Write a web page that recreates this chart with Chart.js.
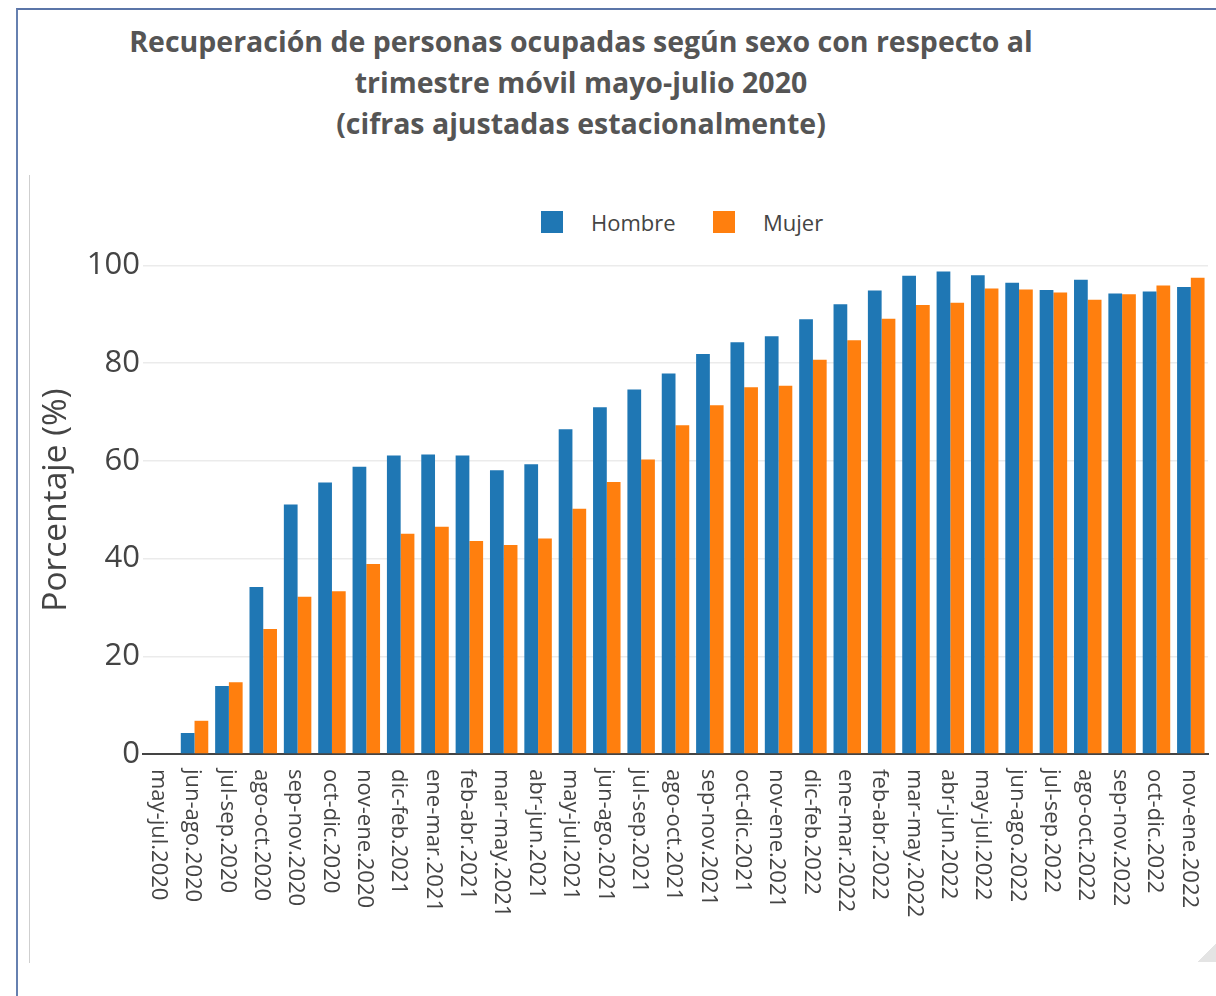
<!DOCTYPE html>
<html lang="es">
<head>
<meta charset="utf-8">
<title>Recuperación de personas ocupadas según sexo</title>
<script src="https://cdn.jsdelivr.net/npm/chart.js@4"></script>
<style>
  html, body { margin: 0; padding: 0; background: #fff; width: 1216px; height: 996px; overflow: hidden; }
  body { position: relative; font-family: "Open Sans", sans-serif; }
  .frame { position: absolute; left: 16px; top: 8px; width: 1220px; height: 1000px;
           border-top: 2px solid #5b75a8; border-left: 2px solid #6680b0; }
  .inner-line { position: absolute; left: 29px; top: 175px; width: 1px; height: 788px; background: #cfcfcf; }
  .title { position: absolute; left: 0; top: 21px; width: 1162px; text-align: center;
           font: bold 28.5px/41px "Open Sans", sans-serif; color: #555; }
  .legend { position: absolute; top: 0; left: 0; }
  .legend .box { position: absolute; width: 22px; height: 22px; top: 211px; }
  .legend .txt { position: absolute; top: 207px; font: 22px/30px "Open Sans", sans-serif; color: #444; }
  .grip { position: absolute; left: 1198px; top: 944px; width: 18px; height: 18px;
          background: linear-gradient(135deg, transparent 50%, #e4e4e4 50%); }
  #wrap { position: absolute; left: 0; top: 0; width: 1216px; height: 996px; }
</style>
</head>
<body>
<div class="frame"></div>
<div class="inner-line"></div>
<div class="title">Recuperación de personas ocupadas según sexo con respecto al<br>trimestre móvil mayo-julio 2020<br>(cifras ajustadas estacionalmente)</div>
<div class="legend">
  <div class="box" style="left:541px;background:#1f77b4;"></div>
  <div class="txt" style="left:591px;">Hombre</div>
  <div class="box" style="left:713px;background:#ff7f0e;"></div>
  <div class="txt" style="left:763px;">Mujer</div>
</div>
<div class="grip"></div>
<div id="wrap"><canvas id="chart"></canvas></div>

<script>
// categories: rolling quarters
const PERIODOS = [
  'may-jul.2020','jun-ago.2020','jul-sep.2020','ago-oct.2020','sep-nov.2020','oct-dic.2020',
  'nov-ene.2020','dic-feb.2021','ene-mar.2021','feb-abr.2021','mar-may.2021','abr-jun.2021',
  'may-jul.2021','jun-ago.2021','jul-sep.2021','ago-oct.2021','sep-nov.2021','oct-dic.2021',
  'nov-ene.2021','dic-feb.2022','ene-mar.2022','feb-abr.2022','mar-may.2022','abr-jun.2022',
  'may-jul.2022','jun-ago.2022','jul-sep.2022','ago-oct.2022','sep-nov.2022','oct-dic.2022',
  'nov-ene.2022'
];

const HOMBRE = [0, 4.3, 13.9, 34.2, 51.1, 55.6, 58.8, 61.1, 61.3, 61.1, 58.1, 59.3, 66.5, 71.0, 74.6, 77.9,
                81.9, 84.3, 85.5, 89.0, 92.1, 94.9, 97.9, 98.8, 98.0, 96.5, 95.0, 97.1, 94.3, 94.7, 95.6];
const MUJER  = [0, 6.8, 14.7, 25.6, 32.2, 33.3, 38.9, 45.1, 46.5, 43.6, 42.8, 44.1, 50.2, 55.7, 60.3, 67.3,
                71.4, 75.1, 75.4, 80.7, 84.7, 89.1, 91.9, 92.4, 95.3, 95.1, 94.5, 93.0, 94.1, 95.9, 97.5];

const Y_MIN = 0, Y_MAX = 104, Y_STEP = 20;

// x labels read top-to-bottom (rotated clockwise), so draw them ourselves at the tick positions
const verticalLabels = {
  id: 'verticalLabels',
  afterDraw(chart) {
    const { ctx, scales: { x } } = chart;
    ctx.save();
    ctx.font = '22px "Open Sans", sans-serif';
    ctx.fillStyle = '#444';
    ctx.textAlign = 'left';
    ctx.textBaseline = 'middle';
    PERIODOS.forEach((lab, i) => {
      const px = x.getPixelForValue(i) - 2;
      ctx.save();
      ctx.translate(px, x.top + 15);
      ctx.rotate(Math.PI / 2);
      ctx.fillText(lab, 0, 0);
      ctx.restore();
    });
    ctx.restore();
  }
};

new Chart(document.getElementById('chart'), {
  type: 'bar',
  data: {
    labels: PERIODOS,
    datasets: [
      { label: 'Hombre', data: HOMBRE, backgroundColor: '#1f77b4', borderWidth: 0 },
      { label: 'Mujer',  data: MUJER,  backgroundColor: '#ff7f0e', borderWidth: 0 },
    ],
  },
  options: {
    responsive: true, maintainAspectRatio: false, animation: false,
    layout: { padding: { left: 30, right: 8, top: 246, bottom: 42 } },
    datasets: { bar: { categoryPercentage: 0.8, barPercentage: 1.0 } },
    plugins: { legend: { display: false }, title: { display: false }, tooltip: { enabled: false } },
    scales: {
      x: {
        grid: { display: false },
        border: { display: true, color: '#444', width: 2 },
        ticks: { display: false },
        afterFit: s => { s.height = 200; },
      },
      y: {
        min: Y_MIN, max: Y_MAX,
        grid: { color: '#ebebeb', lineWidth: 1.5, drawTicks: false },
        border: { display: false },
        ticks: { stepSize: Y_STEP, includeBounds: false, padding: 3, color: '#444',
                 font: { family: 'Open Sans', size: 31 } },
        title: { display: true, text: 'Porcentaje (%)', color: '#444',
                 font: { family: 'Open Sans', size: 33.5 }, padding: { top: 6, bottom: 0 } },
        afterFit: s => { s.width = 113; },
      },
    },
  },
  plugins: [verticalLabels],
});
</script>
</body>
</html>
